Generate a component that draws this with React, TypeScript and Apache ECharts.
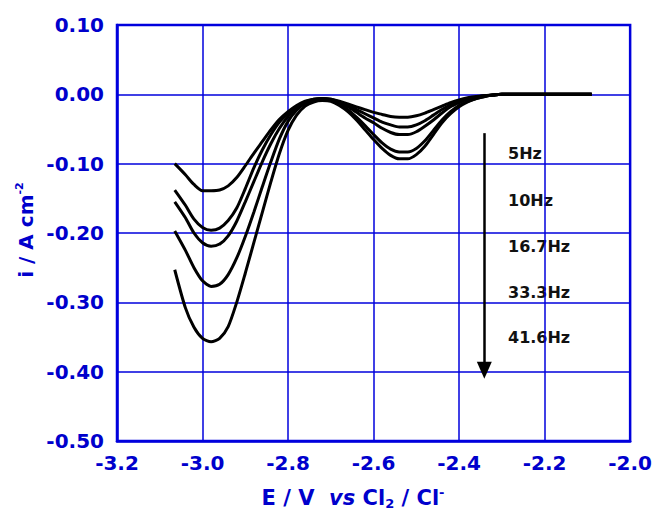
import React, { useEffect, useRef } from "react";
import * as echarts from "echarts";

// Electrode potential (V vs Cl2/Cl-) sampled along each sweep
const potential = [
  -3.065, -3.04, -3.02, -3.0, -2.98, -2.96, -2.94, -2.92, -2.9, -2.88, -2.86, -2.84, -2.82,
  -2.8, -2.78, -2.76, -2.74, -2.72, -2.7, -2.68, -2.66, -2.64, -2.62, -2.6, -2.58, -2.56,
  -2.54, -2.52, -2.5, -2.48, -2.46, -2.44, -2.42, -2.4, -2.38, -2.36, -2.34, -2.32, -2.3,
  -2.25, -2.2, -2.15, -2.09,
];

// Current density (A cm-2) for each square-wave frequency
const i5Hz = [
  -0.1, -0.116, -0.13, -0.139, -0.139, -0.138, -0.132, -0.12, -0.103, -0.085, -0.068, -0.051,
  -0.036, -0.025, -0.016, -0.01, -0.007, -0.006, -0.007, -0.01, -0.014, -0.018, -0.022, -0.026,
  -0.029, -0.032, -0.033, -0.033, -0.031, -0.027, -0.022, -0.017, -0.012, -0.008, -0.005,
  -0.003, -0.002, -0.001, 0, 0, 0, 0, 0,
];
const i10Hz = [
  -0.138, -0.16, -0.18, -0.192, -0.196, -0.193, -0.182, -0.164, -0.136, -0.106, -0.08, -0.058,
  -0.04, -0.028, -0.018, -0.011, -0.007, -0.006, -0.007, -0.011, -0.016, -0.022, -0.028,
  -0.034, -0.04, -0.044, -0.047, -0.047, -0.044, -0.038, -0.03, -0.022, -0.015, -0.01, -0.006,
  -0.004, -0.002, -0.001, 0, 0, 0, 0, 0,
];
const i16_7Hz = [
  -0.155, -0.178, -0.2, -0.214, -0.219, -0.216, -0.204, -0.183, -0.155, -0.126, -0.097, -0.071,
  -0.049, -0.032, -0.02, -0.012, -0.008, -0.007, -0.008, -0.012, -0.018, -0.026, -0.034,
  -0.041, -0.049, -0.055, -0.058, -0.058, -0.054, -0.046, -0.037, -0.027, -0.018, -0.012,
  -0.007, -0.004, -0.002, -0.001, 0, 0, 0, 0, 0,
];
const i33_3Hz = [
  -0.197, -0.225, -0.25, -0.269, -0.277, -0.274, -0.26, -0.236, -0.205, -0.17, -0.133, -0.097,
  -0.064, -0.039, -0.023, -0.013, -0.009, -0.008, -0.009, -0.014, -0.022, -0.033, -0.045,
  -0.058, -0.07, -0.079, -0.083, -0.083, -0.078, -0.067, -0.052, -0.037, -0.025, -0.016,
  -0.01, -0.006, -0.003, -0.001, 0, 0, 0, 0, 0,
];
const i41_6Hz = [
  -0.253, -0.308, -0.336, -0.352, -0.357, -0.352, -0.335, -0.3, -0.258, -0.214, -0.17,
  -0.126, -0.085, -0.052, -0.03, -0.017, -0.011, -0.009, -0.01, -0.016, -0.025, -0.037,
  -0.051, -0.065, -0.078, -0.088, -0.093, -0.093, -0.087, -0.075, -0.058, -0.041, -0.028,
  -0.018, -0.011, -0.006, -0.003, -0.001, 0, 0, 0, 0, 0,
];

const frequencies = ["5Hz", "10Hz", "16.7Hz", "33.3Hz", "41.6Hz"];
const sweeps = [i5Hz, i10Hz, i16_7Hz, i33_3Hz, i41_6Hz];

// Arrow showing increasing frequency (potential, start current, end current)
const arrowE = -2.341;
const arrowFrom = -0.056;
const arrowTo = -0.398;

const BLUE = "#0000dd";
const TEXT_BLUE = "#0000cc";
const FONT = "'DejaVu Sans', 'Liberation Sans', sans-serif";

export default function App() {
  const ref = useRef<HTMLDivElement>(null);

  useEffect(() => {
    const chart = echarts.init(ref.current!, null, { renderer: "svg" });

    const lineSeries = sweeps.map((vals, k) => ({
      name: frequencies[k],
      type: "line",
      data: potential.map((e, j) => [e, vals[j]]),
      showSymbol: false,
      smooth: 0.25,
      lineStyle: { color: "#000", width: 3 },
      silent: true,
      z: 3,
    }));

    const labelYs = [153, 200, 246, 292, 337];

    const title = (size: number, extra: Record<string, unknown> = {}) => ({
      fontFamily: FONT,
      fontWeight: "bold",
      fontSize: size,
      fill: TEXT_BLUE,
      lineHeight: 24,
      ...extra,
    });

    chart.setOption({
      animation: false,
      backgroundColor: "#fff",
      grid: {
        left: 117,
        top: 25,
        width: 514,
        height: 416,
        show: true,
        borderColor: BLUE,
        borderWidth: 2.5,
        backgroundColor: "transparent",
      },
      xAxis: {
        type: "value",
        min: -3.2,
        max: -2.0,
        interval: 0.2,
        axisLine: { show: true, onZero: false, lineStyle: { color: BLUE, width: 2.5 } },
        axisTick: { show: false },
        splitLine: { show: true, lineStyle: { color: BLUE, width: 1.5 } },
        axisLabel: {
          color: TEXT_BLUE,
          fontFamily: FONT,
          fontWeight: "bold",
          fontSize: 20,
          margin: 12,
          formatter: (v: number) => v.toFixed(1),
        },
      },
      yAxis: {
        type: "value",
        min: -0.5,
        max: 0.1,
        interval: 0.1,
        axisLine: { show: true, onZero: false, lineStyle: { color: BLUE, width: 2.5 } },
        axisTick: { show: false },
        splitLine: { show: true, lineStyle: { color: BLUE, width: 1.5 } },
        axisLabel: {
          color: TEXT_BLUE,
          fontFamily: FONT,
          fontWeight: "bold",
          fontSize: 20,
          margin: 13,
          formatter: (v: number) => v.toFixed(2),
        },
      },
      series: [
        ...lineSeries,
        {
          type: "line",
          data: [],
          silent: true,
          z: 4,
          markLine: {
            silent: true,
            symbol: ["none", "triangle"],
            symbolSize: [15, 17],
            label: { show: false },
            lineStyle: { color: "#000", width: 2.5, type: "solid" },
            emphasis: { disabled: true },
            data: [[{ coord: [arrowE, arrowFrom] }, { coord: [arrowE, arrowTo] }]],
          },
        },
      ],
      graphic: [
        ...frequencies.map((f, k) => ({
          type: "text",
          x: 508,
          y: labelYs[k],
          style: {
            text: f,
            fill: "#111",
            font: `bold 16px ${FONT}`,
            align: "left",
            verticalAlign: "middle",
          },
        })),
        {
          type: "text",
          x: 26,
          y: 230,
          rotation: Math.PI / 2,
          style: {
            text: "{a|i / A cm}{s|-2}",
            align: "center",
            verticalAlign: "middle",
            rich: {
              a: title(20),
              s: title(11, { verticalAlign: "top" }),
            },
          },
        },
        {
          type: "text",
          x: 353,
          y: 498,
          style: {
            text: "{a|E / V  }{i|vs}{a| Cl}{sub|2}{a| / Cl}{s|-}",
            align: "center",
            verticalAlign: "middle",
            rich: {
              a: title(21),
              i: title(21, { fontStyle: "italic" }),
              sub: title(13, { verticalAlign: "bottom" }),
              s: title(13, { verticalAlign: "top" }),
            },
          },
        },
      ],
    });

    return () => chart.dispose();
  }, []);

  return (
    <div
      ref={ref}
      style={{ position: "fixed", left: 0, top: 0, width: 655, height: 512 }}
    />
  );
}
